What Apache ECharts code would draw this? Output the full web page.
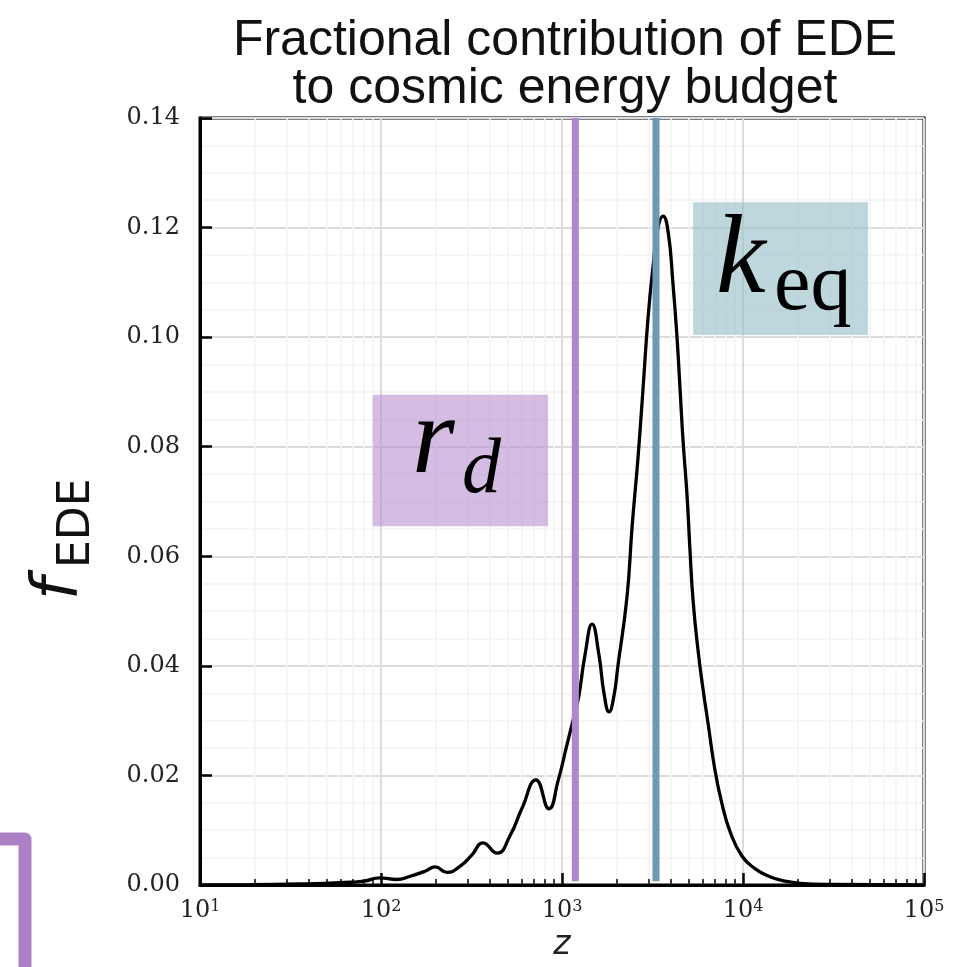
<!DOCTYPE html>
<html><head><meta charset="utf-8">
<script src="https://cdn.jsdelivr.net/npm/echarts@6/dist/echarts.min.js"></script>
<style>html,body{margin:0;padding:0;background:#fff}#c{width:969px;height:967px}</style>
</head><body><div id="c"></div>
<script>
// redshift z (log axis) and fractional EDE contribution
const zValues = [10, 18.9, 35.6, 47.9, 67.5, 80.5, 98.6, 122, 145, 175, 199, 232, 273, 318, 366, 438, 516, 601, 718, 847, 951, 1067, 1180, 1242, 1340, 1466, 1600, 1706, 1820, 1936, 2037, 2286, 2438, 2630, 2805, 2985, 3184, 3388, 3614, 3855, 4102, 4315, 4487, 4667, 4909, 5093, 5297, 5636, 6012, 6412, 6998, 7656, 8472, 9863, 11641, 14093, 17061, 20654, 30269, 100000];
const fValues = [0, 0.00005, 0.0002, 0.0003, 0.0005, 0.0007, 0.0013, 0.0010, 0.0016, 0.0025, 0.0033, 0.0023, 0.0034, 0.0055, 0.0077, 0.0058, 0.0090, 0.0140, 0.0192, 0.0139, 0.0190, 0.0257, 0.0315, 0.0347, 0.0420, 0.0476, 0.0420, 0.0350, 0.0316, 0.0345, 0.0400, 0.0526, 0.0653, 0.0780, 0.0907, 0.1034, 0.1129, 0.1199, 0.1221, 0.1193, 0.1098, 0.1002, 0.0907, 0.0810, 0.0710, 0.0612, 0.0520, 0.0430, 0.0358, 0.0295, 0.0210, 0.0148, 0.0098, 0.0053, 0.0030, 0.0015, 0.0007, 0.0003, 0.0001, 0];
const xTickExponents = [1, 2, 3, 4, 5];
const yTickLabels = ['0.00', '0.02', '0.04', '0.06', '0.08', '0.10', '0.12', '0.14'];
const rdZ = 1185;        // drag epoch marker
const zeqZ = 3305;       // matter-radiation equality marker
const markerSpan = [0.0007, 0.14];
const rdBox = [[90, 0.0895], [838, 0.0655]];
const keqBox = [[5297, 0.1246], [49090, 0.1004]];
const titleLines = ['Fractional contribution of EDE', 'to cosmic energy budget'];

const chart = echarts.init(document.getElementById('c'), null, {renderer: 'canvas'});
const serifLbl = 'DejaVu Serif';

const option = {
  animation: false,
  backgroundColor: '#ffffff',
  title: {
    text: titleLines.join('\n'),
    left: 560, top: 12, textAlign: 'center',
    textStyle: {fontFamily: 'Liberation Sans', fontWeight: 'normal', fontSize: 50, lineHeight: 48, color: '#111'}
  },
  grid: {left: 200, right: 45, top: 118, bottom: 75, show: true, borderColor: '#000', borderWidth: 3},
  xAxis: {
    type: 'log', logBase: 10, min: 10, max: 100000,
    name: 'z', nameLocation: 'middle', nameGap: 44,
    nameTextStyle: {fontFamily: 'DejaVu Sans', fontStyle: 'italic', fontSize: 33, color: '#222'},
    axisLine: {show: true, onZero: false, lineStyle: {color: '#000', width: 3}},
    axisTick: {show: true, inside: true, length: 12, lineStyle: {color: '#000', width: 2.5}},
    minorTick: {show: true, splitNumber: 9, length: 6, lineStyle: {color: '#000', width: 1.5}},
    axisLabel: {
      margin: 14, showMinLabel: true, showMaxLabel: true,
      formatter: v => {
        const e = Math.round(Math.log10(v));
        return xTickExponents.includes(e) ? '{b|10}{s|' + e + '}' : '';
      },
      rich: {
        b: {fontFamily: serifLbl, fontSize: 24, color: '#222'},
        s: {fontFamily: serifLbl, fontSize: 16, color: '#222', verticalAlign: 'top'}
      }
    },
    splitLine: {show: true, lineStyle: {color: '#dcdcdc', width: 2}},
    minorSplitLine: {show: true, lineStyle: {color: '#f4f4f4', width: 1.5}}
  },
  yAxis: {
    type: 'value', min: 0, max: 0.14, interval: 0.02,
    axisLine: {show: true, lineStyle: {color: '#000', width: 3}},
    axisTick: {show: true, inside: true, length: 12, lineStyle: {color: '#000', width: 2.5}},
    minorTick: {show: false, splitNumber: 4},
    axisLabel: {margin: 20, fontFamily: serifLbl, fontSize: 24, color: '#222',
      formatter: v => yTickLabels[Math.round(v / 0.02)] || ''},
    splitLine: {show: true, lineStyle: {color: '#dcdcdc', width: 2}},
    minorSplitLine: {show: true, lineStyle: {color: '#f4f4f4', width: 1.5}}
  },
  series: [
    {
      type: 'line', name: 'fEDE', z: 3,
      data: zValues.map((z, i) => [z, fValues[i]]),
      symbol: 'none', smooth: 0.5,
      lineStyle: {color: '#000', width: 3.3},
      markArea: {
        silent: true,
        data: [
          [{coord: rdBox[0], itemStyle: {color: 'rgba(183,140,205,0.58)'}}, {coord: rdBox[1]}],
          [{coord: keqBox[0], itemStyle: {color: 'rgba(150,190,200,0.62)'}}, {coord: keqBox[1]}]
        ]
      }
    },
    {
      type: 'line', name: 'rd', z: 5, symbol: 'none',
      data: markerSpan.map(f => [rdZ, f]),
      lineStyle: {color: '#b088c9', width: 7, cap: 'butt'}
    },
    {
      type: 'line', name: 'zeq', z: 5, symbol: 'none',
      data: markerSpan.map(f => [zeqZ, f]),
      lineStyle: {color: '#6c99b4', width: 7, cap: 'butt'}
    }
  ],
  graphic: [
    {type: 'polyline', z: 10, shape: {points: [[-12, 839], [25, 839], [25, 990]]},
     style: {stroke: '#ab80c5', lineWidth: 13, fill: null, lineJoin: 'round'}},
    {type: 'text', z: 10, x: 412, y: 443, style: {text: 'r', fontFamily: 'Liberation Serif', fontStyle: 'italic', fontSize: 110, fill: '#000', textAlign: 'left', textVerticalAlign: 'middle'}},
    {type: 'text', z: 10, x: 462, y: 471, style: {text: 'd', fontFamily: 'Liberation Serif', fontStyle: 'italic', fontSize: 78, fill: '#000', textAlign: 'left', textVerticalAlign: 'middle'}},
    {type: 'text', z: 10, x: 716, y: 263, style: {text: 'k', fontFamily: 'Liberation Serif', fontStyle: 'italic', fontSize: 112, fill: '#000', textAlign: 'left', textVerticalAlign: 'middle'}},
    {type: 'text', z: 10, x: 774, y: 287, style: {text: 'eq', fontFamily: 'Liberation Serif', fontSize: 82, fill: '#000', textAlign: 'left', textVerticalAlign: 'middle'}},
    {type: 'group', x: 0, y: 600, rotation: Math.PI / 2, children: [
      {type: 'text', x: 0, y: 60, style: {text: 'f', fontFamily: 'DejaVu Sans', fontStyle: 'italic', fontSize: 64, fill: '#111', textAlign: 'left', textVerticalAlign: 'middle'}},
      {type: 'text', x: 32, y: 78, style: {text: 'EDE', fontFamily: 'DejaVu Sans', fontSize: 44, fill: '#111', textAlign: 'left', textVerticalAlign: 'middle'}}
    ]}
  ]
};
chart.setOption(option);
</script></body></html>
